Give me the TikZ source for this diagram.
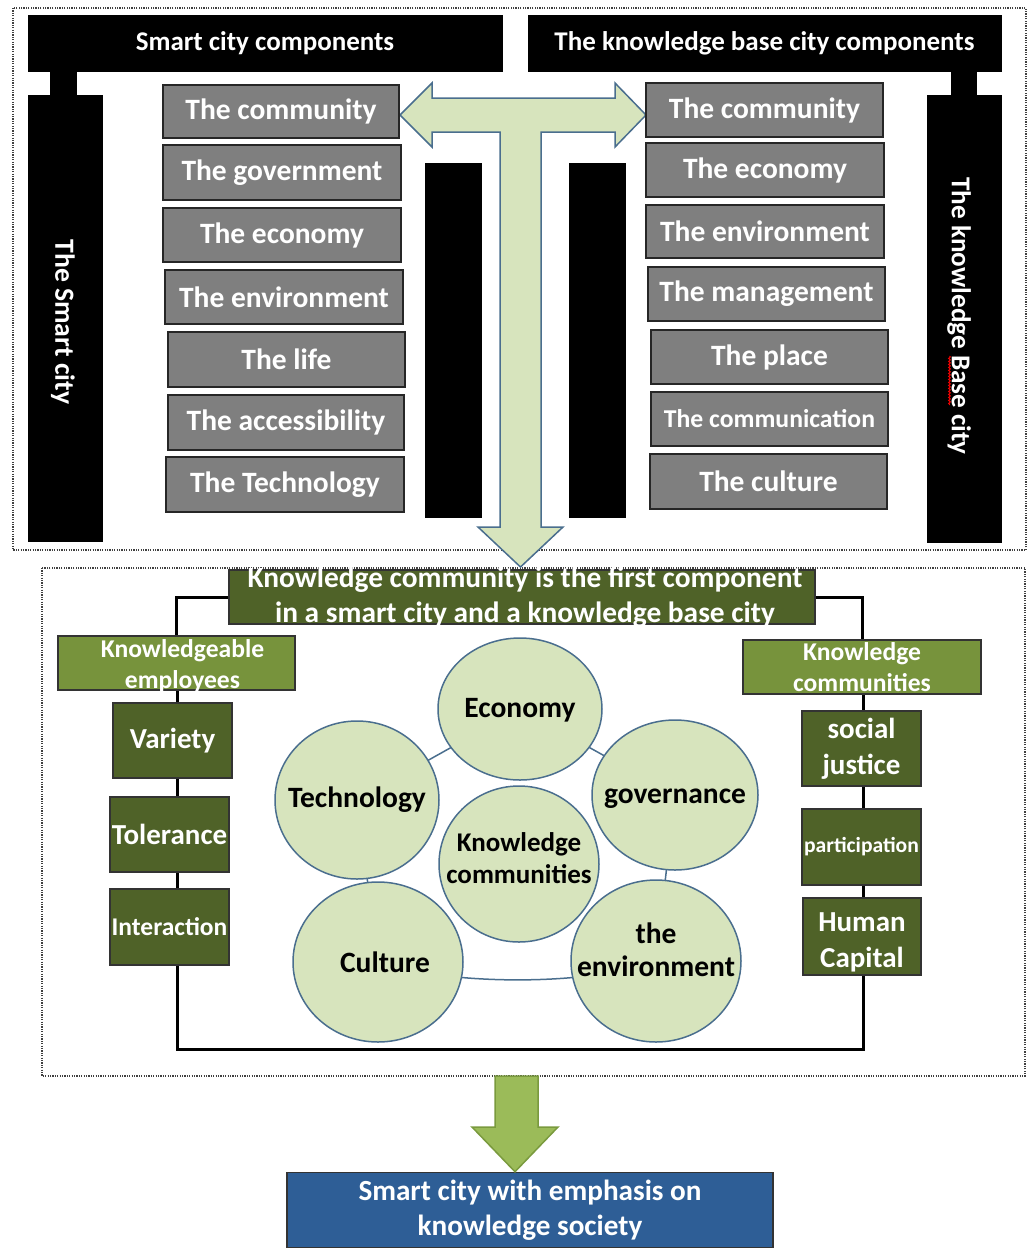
\documentclass[tikz,border=0pt]{standalone}
\usepackage{fontspec}
\setmainfont{Carlito}
\usetikzlibrary{decorations.pathmorphing,shapes.geometric}
\definecolor{grayfill}{HTML}{7F7F7F}
\definecolor{dkgreen}{HTML}{4F6228}
\definecolor{mdgreen}{HTML}{77933C}
\definecolor{ltgreen}{HTML}{D7E4BD}
\definecolor{arrowgreen}{HTML}{9BBB59}
\definecolor{arrowedge}{HTML}{7A9A3E}
\definecolor{ringblue}{HTML}{4A6E8E}
\definecolor{boxblue}{HTML}{2E5E96}
\newcommand{\fsz}[2]{\fontsize{#1}{#2}\selectfont}
\begin{document}
\begin{tikzpicture}[x=1pt,y=-1pt,
  blackbar/.style={fill=black,draw=black,inner sep=0pt,text=white,font=\bfseries\fsz{27}{34}},
  graybox/.style={fill=grayfill,draw=black!85,line width=1.6pt,inner sep=0pt,text=white,font=\bfseries\fsz{29.5}{34}},
  dkbox/.style={fill=dkgreen,draw=black!80,line width=1.6pt,inner sep=0pt,text=white,align=center,font=\bfseries\fsz{29}{36}},
  mdbox/.style={fill=mdgreen,draw=black!80,line width=1.6pt,inner sep=0pt,text=white,align=center,font=\bfseries\fsz{25.6}{31}},
  bubble/.style={ellipse,fill=ltgreen,draw=ringblue,line width=1.5pt,inner sep=0pt},
  bubbletext/.style={text=black,align=center,font=\bfseries\fsz{29.5}{33}},
  link/.style={draw=black,line width=3pt},
  ring/.style={draw=ringblue,line width=1.5pt},
  dots/.style={draw=black!75,line width=1.6pt,dash pattern=on 1.2pt off 1.2pt}
]
\useasboundingbox (0,0) rectangle (1032,1248);

% dotted frames
\draw[dots] (13,8) rectangle (1026,550);
\draw[dots] (42,568) rectangle (1025,1076);

% top black bars
\node[blackbar,minimum width=474,minimum height=56] (tl) at (265,43) {Smart city components};
\node[blackbar,minimum width=473,minimum height=56] (tr) at (764.5,43) {The knowledge base city components};
\node[blackbar,minimum width=74,minimum height=446] (lv) at (65,318) {};
\node[blackbar,minimum width=74,minimum height=447] (rv) at (964,318.5) {};
\node[text=white,font=\bfseries\fsz{27.7}{34},rotate=-90] (lvt) at (63,322) {The Smart city};
\node[text=white,font=\bfseries\fsz{27.2}{34},rotate=-90] (rvt) at (959,316) {The knowledge Base city};
\draw[red,line width=0.9pt,decorate,decoration={snake,amplitude=0.9pt,segment length=3pt}] (949.5,356) -- (949.5,405);
% necks
\coordinate (nl) at (63.5,0);
\coordinate (nr) at (964,0);
\draw[line width=27pt] (nl |- tl.south) -- (nl |- lv.north);
\draw[line width=26pt] (nr |- tr.south) -- (nr |- rv.north);
% middle black bars
\node[blackbar,minimum width=56,minimum height=354] (mbl) at (453,340) {};
\node[blackbar,minimum width=56,minimum height=354] (mbr) at (597,340) {};

% T arrow
\draw[fill=ltgreen,draw=ringblue,line width=1.5pt,line join=miter]
  (400,115) -- (432,83) -- (432,98) -- (615,98) -- (615,83) -- (646,115) -- (615,147) -- (615,132)
  -- (541,132) -- (541,527) -- (563,527) -- (520.5,567) -- (478,527) -- (500,527) -- (500,132)
  -- (432,132) -- (432,147) -- cycle;

% left gray boxes
\node[graybox,minimum width=236,minimum height=53] (l1) at (281,111.5) {The community};
\node[graybox,minimum width=238,minimum height=55] (l2) at (282,172.5) {The government};
\node[graybox,minimum width=238,minimum height=54] (l3) at (282,235) {The economy};
\node[graybox,minimum width=238,minimum height=54] (l4) at (284,297) {The environment};
\node[graybox,minimum width=237,minimum height=55] (l5) at (286.5,359.5) {The life};
\node[graybox,minimum width=236,minimum height=55] (l6) at (286,422.5) {The accessibility};
\node[graybox,minimum width=238,minimum height=55] (l7) at (285,484.5) {The Technology};
% right gray boxes
\node[graybox,minimum width=237,minimum height=54] (r1) at (764.5,110) {The community};
\node[graybox,minimum width=238,minimum height=54] (r2) at (765,170) {The economy};
\node[graybox,minimum width=238,minimum height=53] (r3) at (765,231.5) {The environment};
\node[graybox,minimum width=237,minimum height=54] (r4) at (766.5,294) {The management};
\node[graybox,minimum width=237,minimum height=54] (r5) at (769.5,357) {The place};
\node[graybox,minimum width=237,minimum height=54,font=\bfseries\fsz{25.7}{30}] (r6) at (769.5,419) {The communication};
\node[graybox,minimum width=237,minimum height=55] (r7) at (768.5,481.5) {The culture};

% lower section boxes
\node[dkbox,minimum width=586,minimum height=54] (title) at (522,597) {};
\node[text=white,align=center,font=\bfseries\fsz{29.4}{35}] at ([xshift=3pt]title.center) {Knowledge community is the first component\\in a smart city and a knowledge base city};
\node[mdbox,minimum width=237,minimum height=54] (ke) at (176.5,663) {};
\node[text=white,align=center,font=\bfseries\fsz{25.6}{31}] at ([xshift=6pt,yshift=-3pt]ke.center) {Knowledgeable\\employees};
\node[mdbox,minimum width=238,minimum height=54] (kc) at (862,667) {Knowledge\\communities};
\node[dkbox,minimum width=119,minimum height=75] (var) at (172.5,740.5) {Variety};
\node[dkbox,minimum width=119,minimum height=75] (tol) at (169.5,834.5) {Tolerance};
\node[dkbox,minimum width=119,minimum height=76,font=\bfseries\fsz{25.5}{30}] (int) at (169.5,927) {Interaction};
\node[dkbox,minimum width=119,minimum height=75,font=\bfseries\fsz{29}{36}] (sj) at (861.5,748.5) {social\\justice};
\node[dkbox,minimum width=119,minimum height=76,font=\bfseries\fsz{21.6}{26}] (par) at (861.5,847) {participation};
\node[dkbox,minimum width=118,minimum height=77] (hc) at (862,936.5) {};
\node[text=white,align=center,font=\bfseries\fsz{29}{36}] at ([yshift=-6pt]hc.center) {Human\\Capital};

% connectors
\coordinate (xl) at (177,0);
\coordinate (xr) at (863,0);
\draw[link] (title.west) -| (ke.north);
\draw[link] (title.east) -| (kc.north);
\draw[link] (xl |- ke.south) -- (xl |- var.north);
\draw[link] (xl |- var.south) -- (xl |- tol.north);
\draw[link] (xl |- tol.south) -- (xl |- int.north);
\coordinate (bl) at (177,1049);
\coordinate (br) at (863,1049);
\draw[link] (xl |- int.south) -- (bl) -- (br) -- (xr |- hc.south);
\draw[link] (xr |- kc.south) -- (xr |- sj.north);
\draw[link] (xr |- sj.south) -- (xr |- par.north);
\draw[link] (xr |- par.south) -- (xr |- hc.north);

% bubbles
\coordinate (cEco) at (520,709);
\coordinate (cTec) at (357,800);
\coordinate (cGov) at (675,795);
\coordinate (cKno) at (519,864);
\coordinate (cCul) at (378,962);
\coordinate (cEnv) at (656,961);
\draw[ring] (cEco) -- (cTec);
\draw[ring] (cEco) -- (cGov);
\draw[ring] (cTec) -- (cCul);
\draw[ring] (cGov) -- (cEnv);
\draw[ring] (cCul) .. controls (450,986) and (590,986) .. (cEnv);
\node[bubble,minimum width=164,minimum height=142] (eco) at (cEco) {};
\node[bubble,minimum width=164,minimum height=158] (tec) at (cTec) {};
\node[bubble,minimum width=166,minimum height=150] (gov) at (cGov) {};
\node[bubble,minimum width=160,minimum height=156] (kno) at (cKno) {};
\node[bubble,minimum width=170,minimum height=160] (cul) at (cCul) {};
\node[bubble,minimum width=170,minimum height=162] (env) at (cEnv) {};
\node[bubbletext] at ([yshift=-1pt]eco.center) {Economy};
\node[bubbletext] at (tec.center) {Technology};
\node[bubbletext] at ([yshift=-4pt]gov.center) {governance};
\node[bubbletext,font=\bfseries\fsz{27}{32}] at ([yshift=6pt]kno.center) {Knowledge\\communities};
\node[bubbletext] at ([xshift=7pt]cul.center) {Culture};
\node[bubbletext] at ([yshift=11pt]env.center) {the\\environment};

% bottom arrow and box
\node[fill=boxblue,draw=black!80,line width=1.6pt,inner sep=0pt,text=white,align=center,font=\bfseries\fsz{29.2}{35},minimum width=486,minimum height=75] (final) at (530,1210) {Smart city with emphasis on\\knowledge society};
\coordinate (tipx) at (515,0);
\draw[fill=arrowgreen,draw=arrowedge,line width=1.5pt,line join=miter]
  (495,1076) -- (538,1076) -- (538,1127) -- (558,1127) -- (tipx |- final.north) -- (472,1127) -- (495,1127) -- cycle;
\end{tikzpicture}
\end{document}
